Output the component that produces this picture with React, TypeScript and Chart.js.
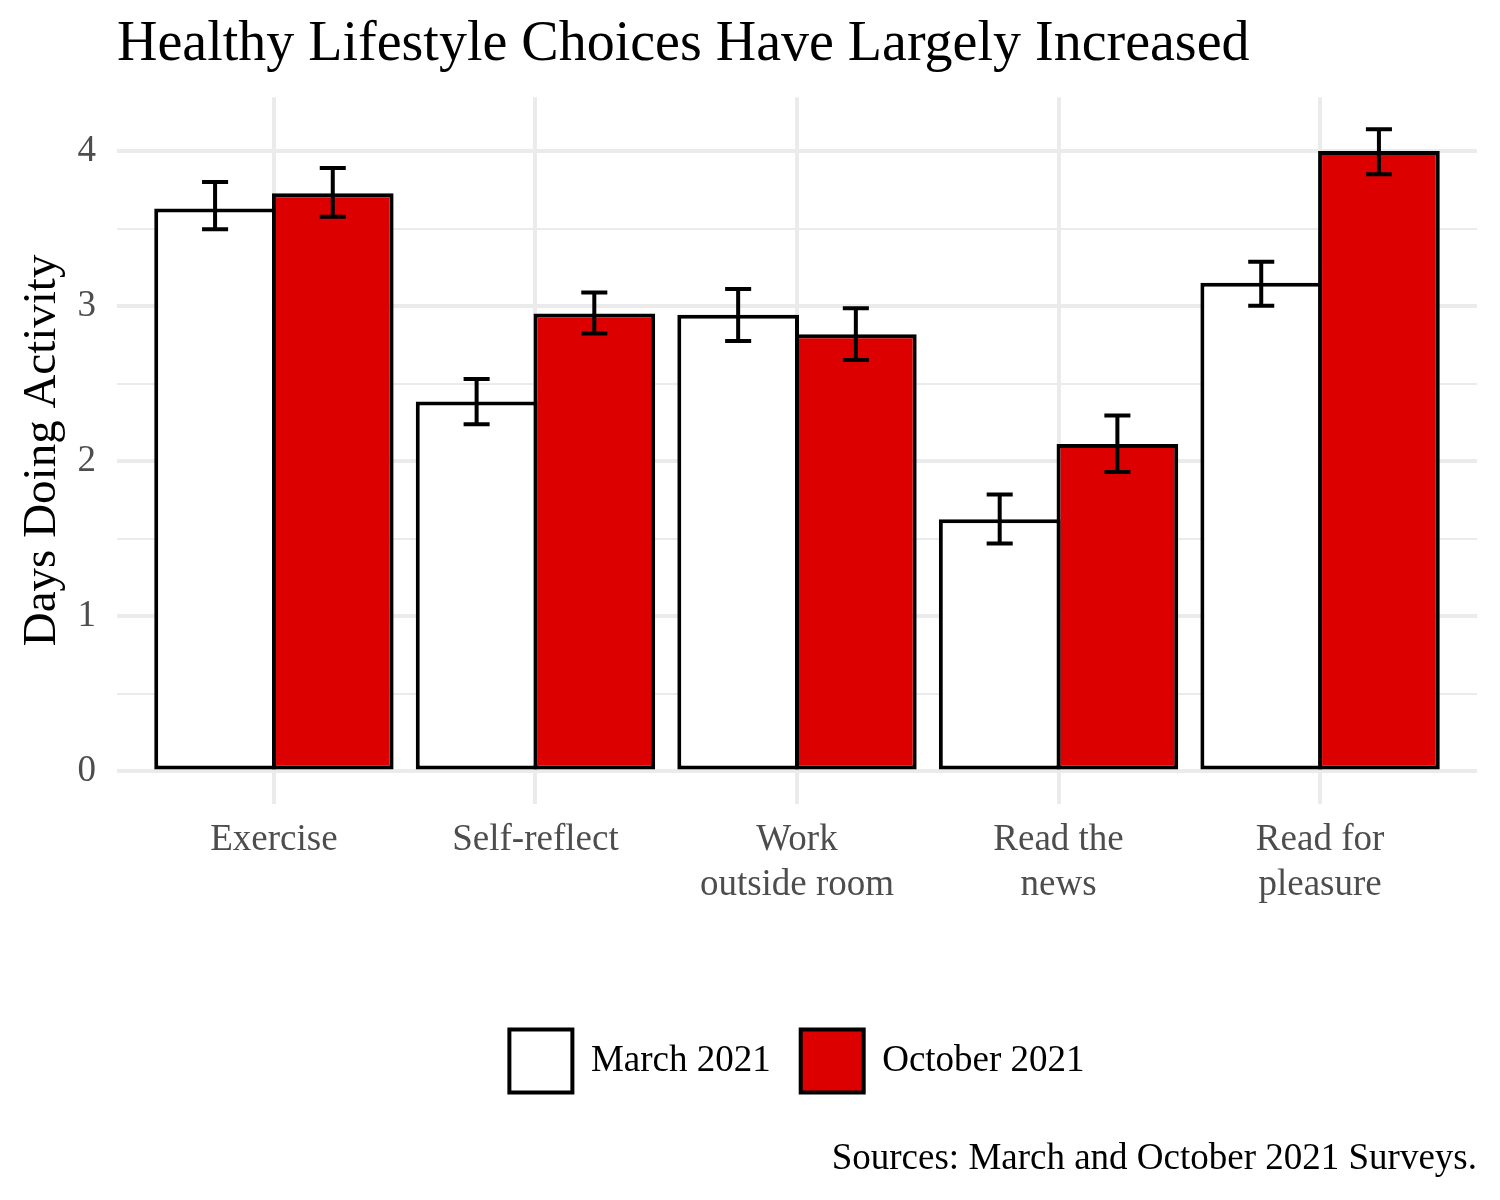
import React, { useEffect, useRef } from "react";
import { Chart, registerables } from "chart.js";

Chart.register(...registerables);

const categories: string[][] = [
  ["Exercise"],
  ["Self-reflect"],
  ["Work", "outside room"],
  ["Read the", "news"],
  ["Read for", "pleasure"],
];
const seriesNames = ["March 2021", "October 2021"];

const marchValues = [3.63, 2.385, 2.944, 1.626, 3.15];
const marchLow = [3.496, 2.239, 2.776, 1.469, 3.002];
const marchHigh = [3.8, 2.531, 3.11, 1.785, 3.286];

const octValues = [3.728, 2.953, 2.819, 2.112, 4.0];
const octLow = [3.576, 2.824, 2.652, 1.931, 3.85];
const octHigh = [3.89, 3.088, 2.987, 2.295, 4.14];

const yTicks = [0, 1, 2, 3, 4];

const titleText = "Healthy Lifestyle Choices Have Largely Increased";
const yTitleText = "Days Doing Activity";
const captionText = "Sources: March and October 2021 Surveys.";

const FONT = "'Liberation Serif', 'Times New Roman', serif";

const lows = [marchLow, octLow];
const highs = [marchHigh, octHigh];

const errorBarPlugin = {
  id: "errorBars",
  afterDatasetsDraw(chart: any) {
    const ctx = chart.ctx;
    const yScale = chart.scales.y;
    ctx.save();
    ctx.strokeStyle = "#000000";
    ctx.lineWidth = 4;
    ctx.lineCap = "butt";
    chart.data.datasets.forEach((_ds: any, di: number) => {
      const meta = chart.getDatasetMeta(di);
      meta.data.forEach((bar: any, i: number) => {
        const x = bar.x;
        const half = bar.width * 0.107;
        const yl = yScale.getPixelForValue(lows[di][i]);
        const yh = yScale.getPixelForValue(highs[di][i]);
        ctx.beginPath();
        ctx.moveTo(x, yh);
        ctx.lineTo(x, yl);
        ctx.moveTo(x - half, yh);
        ctx.lineTo(x + half, yh);
        ctx.moveTo(x - half, yl);
        ctx.lineTo(x + half, yl);
        ctx.stroke();
      });
    });
    ctx.restore();
  },
};

export default function App() {
  const canvasRef = useRef<HTMLCanvasElement | null>(null);

  useEffect(() => {
    if (!canvasRef.current) return;
    const chart = new Chart(canvasRef.current, {
      type: "bar",
      data: {
        datasets: [
          {
            label: seriesNames[0],
            data: marchValues.map((v, i) => ({ x: i, y: v })),
            backgroundColor: "#ffffff",
            borderColor: "#000000",
            borderWidth: 4,
            borderSkipped: false,
          },
          {
            label: seriesNames[1],
            data: octValues.map((v, i) => ({ x: i, y: v })),
            backgroundColor: "#dd0000",
            borderColor: "#000000",
            borderWidth: 4,
            borderSkipped: false,
          },
        ],
      },
      options: {
        animation: false,
        responsive: false,
        devicePixelRatio: 1,
        layout: { padding: { left: 0, right: 23, top: 0, bottom: 0 } },
        datasets: {
          bar: { categoryPercentage: 0.9, barPercentage: 1.034 },
        },
        scales: {
          x: {
            type: "linear",
            offset: false,
            min: -0.6,
            max: 4.6,
            afterFit: (scale: any) => {
              scale.height = 196;
            },
            border: { display: false },
            grid: { color: "#ebebeb", lineWidth: 4, drawTicks: false, offset: false },
            ticks: {
              stepSize: 1,
              includeBounds: false,
              autoSkip: false,
              maxRotation: 0,
              minRotation: 0,
              padding: 14,
              color: "#4d4d4d",
              font: { family: FONT, size: 37, lineHeight: 1.22 },
              callback: (value: any) => {
                const v = Number(value);
                return Number.isInteger(v) && categories[v] ? categories[v] : "";
              },
            },
          },
          y: {
            type: "linear",
            min: -0.207,
            max: 4.347,
            afterFit: (scale: any) => {
              scale.width = 117;
            },
            border: { display: false },
            grid: {
              color: "#ebebeb",
              lineWidth: (c: any) =>
                Number.isInteger(c.tick && c.tick.value) ? 4 : 2,
              drawTicks: false,
            },
            ticks: {
              stepSize: 0.5,
              includeBounds: false,
              autoSkip: false,
              padding: 21,
              color: "#4d4d4d",
              font: { family: FONT, size: 37 },
              callback: (value: any) => {
                const v = Number(value);
                return yTicks.includes(v) ? String(v) : "";
              },
            },
            title: {
              display: true,
              text: yTitleText,
              color: "#000000",
              font: { family: FONT, size: 47 },
              padding: { top: 14, bottom: 0 },
            },
          },
        },
        plugins: {
          title: {
            display: true,
            text: titleText,
            align: "start",
            fullSize: false,
            color: "#000000",
            font: { family: FONT, size: 56, weight: "normal", lineHeight: 1.2 },
            padding: { top: 12, bottom: 18 },
          },
          subtitle: {
            display: true,
            text: captionText,
            position: "bottom",
            align: "end",
            color: "#000000",
            font: { family: FONT, size: 37, weight: "normal", lineHeight: 1.2 },
            padding: { top: 34, bottom: 19 },
          },
          legend: {
            display: true,
            position: "bottom",
            fullSize: false,
            labels: {
              boxWidth: 63,
              boxHeight: 63,
              padding: 30,
              color: "#000000",
              font: { family: FONT, size: 37 },
            },
          },
          tooltip: { enabled: false },
        },
      },
      plugins: [errorBarPlugin],
    } as any);
    return () => chart.destroy();
  }, []);

  return (
    <div style={{ position: "absolute", left: 0, top: 0, width: 1500, height: 1200, background: "#ffffff" }}>
      <canvas ref={canvasRef} width={1500} height={1200} />
    </div>
  );
}
